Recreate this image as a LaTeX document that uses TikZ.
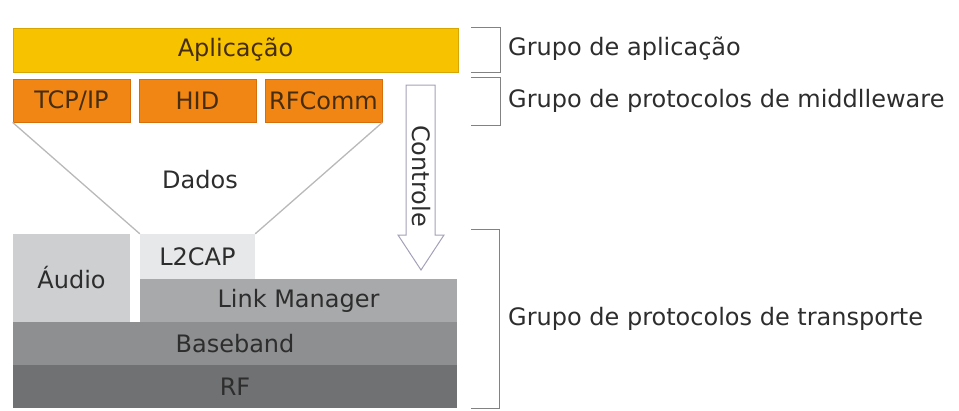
\documentclass[tikz,border=0pt]{standalone}
\usepackage{fontspec}
\setmainfont{DejaVu Sans}
\definecolor{appfill}{RGB}{247,195,0}
\definecolor{appline}{RGB}{215,165,0}
\definecolor{midfill}{RGB}{241,134,20}
\definecolor{midline}{RGB}{215,110,10}
\definecolor{audiofill}{RGB}{205,207,209}
\definecolor{l2capfill}{RGB}{231,232,233}
\definecolor{lmfill}{RGB}{168,169,171}
\definecolor{bbfill}{RGB}{142,143,145}
\definecolor{rffill}{RGB}{112,113,115}
\definecolor{inktext}{RGB}{45,45,45}
\definecolor{warmtext}{RGB}{70,45,15}
\definecolor{funnel}{RGB}{185,185,185}
\definecolor{ctrlline}{RGB}{165,160,185}
\definecolor{bracketline}{RGB}{130,130,130}
\begin{document}
\begin{tikzpicture}[x=1pt,y=-1pt,
  txt/.style={font=\fontsize{24}{28}\selectfont},
  layer/.style={txt, inner sep=0pt, text=inktext},
  appbox/.style={layer, fill=appfill, draw=appline, line width=0.8pt, text=warmtext},
  midbox/.style={layer, fill=midfill, draw=midline, line width=0.8pt, text=warmtext,
                 minimum width=117pt, minimum height=43pt},
  grouplabel/.style={txt, anchor=west, inner sep=0pt, text=inktext},
  bracket/.style={draw=bracketline, line width=1pt},
  funnelline/.style={draw=funnel, line width=1.3pt}]
\useasboundingbox (0,0) rectangle (959,410);

% application layer
\node[appbox, minimum width=445pt, minimum height=44pt] (app) at (235.5,50) {Aplicação};

% middleware protocols
\node[midbox] (tcp) at (71.5,100.5) {TCP/IP};
\node[midbox] (hid) at (197.5,100.5) {HID};
\node[midbox] (rfc) at (323.5,100.5) {RFComm};

% transport protocols
\node[layer, fill=audiofill, minimum width=117pt, minimum height=88pt] (audio) at (71.5,278) {Áudio};
\node[layer, fill=l2capfill, minimum width=115pt, minimum height=45pt] (l2cap) at (197.5,256.5) {L2CAP};
\node[layer, fill=lmfill, minimum width=317pt, minimum height=43pt] (lm) at (298.5,300.5) {Link Manager};
\node[layer, fill=bbfill, minimum width=444pt, minimum height=43pt] (bb) at (235,343.5) {Baseband};
\node[layer, fill=rffill, minimum width=444pt, minimum height=43pt] (rf) at (235,386.5) {RF};

% data funnel from middleware down to L2CAP
\draw[funnelline] (tcp.south west) -- (l2cap.north west);
\draw[funnelline] (rfc.south east) -- (l2cap.north east);
\node[layer] (dados) at (200,180) {Dados};

% control arrow
\draw[draw=ctrlline, fill=white, line width=1pt, line join=miter]
  (406,85) -- (435,85) -- (435,235) -- (444,235) -- (421,270) -- (398,235) -- (406,235) -- cycle;
\node[layer, rotate=-90] (ctrl) at (421,176) {Controle};

% group brackets
\draw[bracket] (471,27) -- (500,27) -- (500,72) -- (471,72);
\draw[bracket] (471,77) -- (500,77) -- (500,125) -- (471,125);
\draw[bracket] (471,229) -- (499,229) -- (499,408) -- (471,408);
\node[grouplabel] (gapp) at (508,49) {Grupo de aplicação};
\node[grouplabel] (gmid) at (508,101) {Grupo de protocolos de middlleware};
\node[grouplabel] (gtra) at (508,319) {Grupo de protocolos de transporte};
\end{tikzpicture}
\end{document}
